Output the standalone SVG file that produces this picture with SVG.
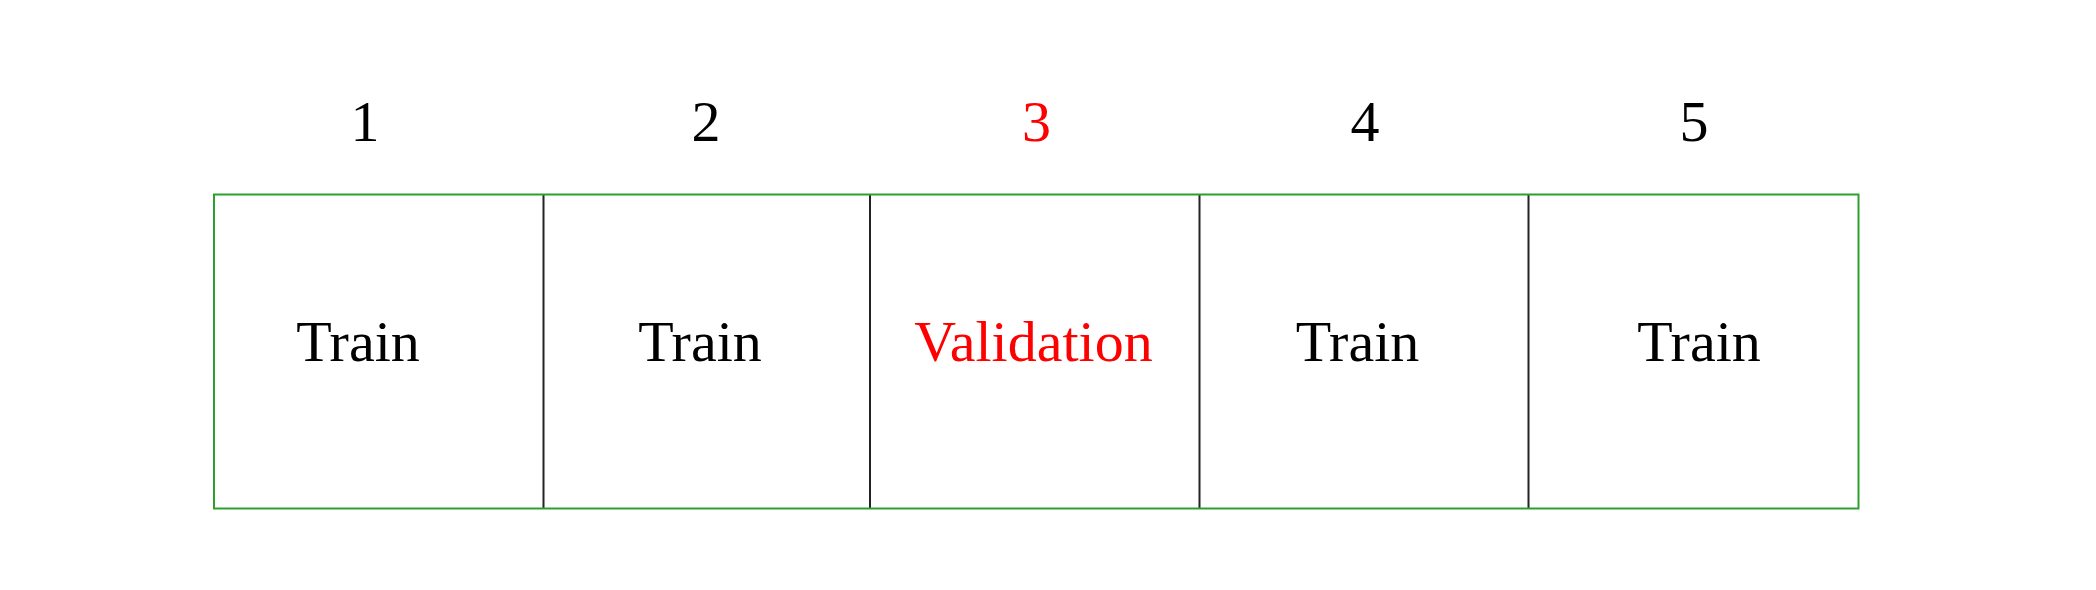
<svg xmlns="http://www.w3.org/2000/svg" width="2096" height="590" viewBox="0 0 2096 590">
<style>
.t{font-family:"Liberation Serif","Times New Roman",serif;font-size:58px;fill:#000;text-anchor:middle}
.r{fill:#ff0000}
.div{stroke:#222;stroke-width:2}
.box{fill:none;stroke:#2ca02c;stroke-width:2}
</style>
<rect width="2096" height="590" fill="#fff"/>
<g id="connectors">
<line class="div" x1="543.5" y1="194.5" x2="543.5" y2="508.5"/>
<line class="div" x1="870" y1="194.5" x2="870" y2="508.5"/>
<line class="div" x1="1199.5" y1="194.5" x2="1199.5" y2="508.5"/>
<line class="div" x1="1528.5" y1="194.5" x2="1528.5" y2="508.5"/>
</g>
<g id="frame"><rect class="box" x="214" y="194.5" width="1644.5" height="314"/></g>
<g id="fold1"><text class="t" x="365" y="140.5">1</text><text class="t" x="358" y="360.5">Train</text></g>
<g id="fold2"><text class="t" x="706" y="140.5">2</text><text class="t" x="700" y="360.5">Train</text></g>
<g id="fold3"><text class="t r" x="1036.5" y="140.5">3</text><text class="t r" x="1033.5" y="360.5">Validation</text></g>
<g id="fold4"><text class="t" x="1365" y="140.5">4</text><text class="t" x="1357.5" y="360.5">Train</text></g>
<g id="fold5"><text class="t" x="1694" y="140.5">5</text><text class="t" x="1699" y="360.5">Train</text></g>
</svg>
